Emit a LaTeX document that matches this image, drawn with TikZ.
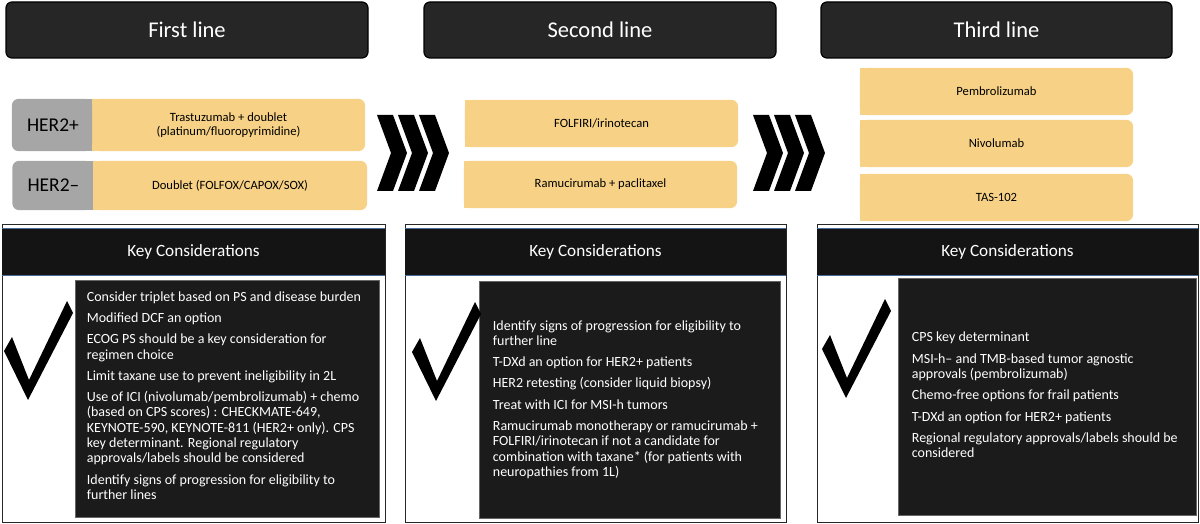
\documentclass[tikz,border=0pt]{standalone}
\usepackage{fontspec}
\setmainfont{Carlito}
\usetikzlibrary{backgrounds}
\definecolor{medyel}{HTML}{F7D286}
\definecolor{medgray}{HTML}{A6A6A6}
\definecolor{barblack}{HTML}{262626}
\definecolor{keyblack}{HTML}{141414}
\definecolor{keyblue}{HTML}{4A6A9C}
\definecolor{boxblack}{HTML}{1B1B1B}

\begin{document}
\begin{tikzpicture}[
  x=1pt,y=-1pt,
  linebar/.style={rounded corners=6pt,fill=barblack,draw=black,line width=1.2pt,text=white,font=\fontsize{22.5}{27}\selectfont,minimum width=#1,minimum height=56pt},
  herbox/.style={inner sep=0pt,minimum width=80pt,font=\fontsize{19.5}{23}\selectfont},
  yelbox/.style={inner sep=0pt,align=center,font=\fontsize{12.6}{14}\selectfont},
  keyframe/.style={draw=black!85,line width=0.9pt,inner sep=0pt,minimum height=298pt,minimum width=#1},
  keyband/.style={fill=keyblack,text=white,inner sep=0pt,minimum height=46pt,minimum width=#1,font=\fontsize{17.2}{20}\selectfont},
  notebox/.style={fill=boxblack,draw=black!60,line width=0.6pt,inner sep=0pt,minimum height=237pt,minimum width=#1},
  notetext/.style={anchor=west,text=white,align=left,inner sep=0pt,font=\fontsize{14}{15.3}\selectfont}
]
  \useasboundingbox (0,0) rectangle (1200,524);

  \node[linebar=362pt] (h1) at (187,30) {First line};
  \node[linebar=352pt] (h2) at (600,30) {Second line};
  \node[linebar=351pt] (h3) at (996.5,30) {Third line};

  \node[herbox,minimum height=52pt] (hp) at (53,125) {HER2+};
  \node[herbox,minimum height=49pt] (hm) at (53.5,185.5) {HER2\textendash};
  \node[yelbox,minimum width=273pt,minimum height=52pt] (tr1) at (228.5,125) {Trastuzumab + doublet\\(platinum/fluoropyrimidine)};
  \node[yelbox,minimum width=274pt,minimum height=49pt] (db1) at (230,185.5) {Doublet (FOLFOX/CAPOX/SOX)};
  \node[yelbox,minimum width=273pt,minimum height=47pt] (fo2) at (601.5,123.5) {FOLFIRI/irinotecan};
  \node[yelbox,minimum width=273pt,minimum height=47pt] (ra2) at (600.5,184.5) {Ramucirumab + paclitaxel};
  \node[yelbox,minimum width=273pt,minimum height=47pt] (pe3) at (996.5,91.5) {Pembrolizumab};
  \node[yelbox,minimum width=273pt,minimum height=47pt] (ni3) at (996.5,143.5) {Nivolumab};
  \node[yelbox,minimum width=273pt,minimum height=47pt] (ta3) at (996.5,197.5) {TAS-102};

  \begin{scope}[on background layer]
    \foreach \n in {tr1,db1,fo2,ra2,pe3,ni3,ta3}{
      \fill[medyel,rounded corners=7pt] (\n.south west) rectangle (\n.north east);
      \fill[medyel] (\n.south west) rectangle (\n.north);
    }
    \foreach \n in {hp,hm}{
      \fill[medgray,rounded corners=7pt] ([xshift=-1pt]\n.south west) rectangle ([xshift=-1pt]\n.north east);
      \fill[medgray] ([xshift=-1pt]\n.south) rectangle ([xshift=-1pt]\n.north east);
    }
  \end{scope}

  \foreach \cx in {377,753}
    \foreach \k in {0,21,42}
      \fill ({\cx+\k},115) -- ({\cx+\k+16},115) -- ({\cx+\k+30},153) -- ({\cx+\k+16},191) -- ({\cx+\k},191) -- ({\cx+\k+14},153) -- cycle;

  \node[keyframe=383pt] (kf1) at (193.5,373) {};
  \node[keyframe=381pt] (kf2) at (595.5,373) {};
  \node[keyframe=381pt] (kf3) at (1007.5,373) {};
  \node[keyband=383pt] (kb1) at (193.5,252) {Key Considerations};
  \node[keyband=381pt] (kb2) at (595.5,252) {Key Considerations};
  \node[keyband=381pt] (kb3) at (1007.5,252) {Key Considerations};
  \foreach \n in {kb1,kb2,kb3}{
    \draw[keyblue,line width=1pt] (\n.north west) -- (\n.north east);
    \draw[keyblue,line width=1pt] (\n.south west) -- (\n.south east);
  }

  \node[notebox=304pt] (nb1) at (227,398.5) {};
  \node[notebox=301pt] (nb2) at (629.5,399.5) {};
  \node[notebox=298pt] (nb3) at (1047,397) {};

  \foreach \dx/\dy in {0/0,408/1,818/-2}
    \fill[shift={(\dx,\dy)}] (4,351) -- (12,337) -- (29,380) -- (67,301) -- (73,313) -- (28,400) -- cycle;

  \node[notetext] (nt1) at ([xshift=12pt,yshift=3pt]nb1.west) {Consider triplet based on PS and disease burden\\[6pt]
    Modified DCF an option\\[6pt]
    ECOG PS should be a key consideration for\\regimen choice\\[6pt]
    Limit taxane use to prevent ineligibility in 2L\\[6pt]
    Use of ICI (nivolumab/pembrolizumab) + chemo\\(based on CPS scores) : CHECKMATE-649,\\KEYNOTE-590, KEYNOTE-811 (HER2+ only). CPS\\key determinant. Regional regulatory\\approvals/labels should be considered\\[6pt]
    Identify signs of progression for eligibility to\\further lines};
  \node[notetext] (nt2) at ([xshift=14pt]nb2.west) {Identify signs of progression for eligibility to\\further line\\[6pt]
    T-DXd an option for HER2+ patients\\[6pt]
    HER2 retesting (consider liquid biopsy)\\[6pt]
    Treat with ICI for MSI-h tumors\\[6pt]
    Ramucirumab monotherapy or ramucirumab +\\FOLFIRI/irinotecan if not a candidate for\\combination with taxane* (for patients with\\neuropathies from 1L)};
  \node[notetext] (nt3) at ([xshift=14pt,yshift=2pt]nb3.west) {CPS key determinant\\[6pt]
    MSI-h\textendash\ and TMB-based tumor agnostic\\approvals (pembrolizumab)\\[6pt]
    Chemo-free options for frail patients\\[6pt]
    T-DXd an option for HER2+ patients\\[6pt]
    Regional regulatory approvals/labels should be\\considered};
\end{tikzpicture}
\end{document}
